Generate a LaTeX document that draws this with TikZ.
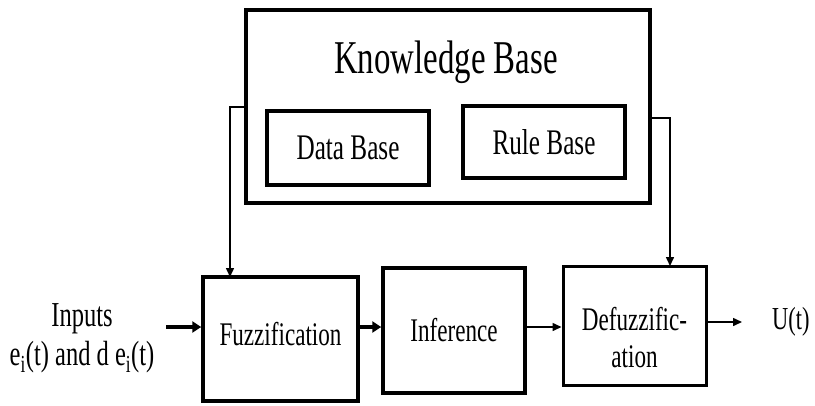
\documentclass[tikz,border=0pt]{standalone}
\usepackage{fontspec}
\setmainfont[FakeStretch=0.7]{Liberation Serif}
\usepackage{tikz}
\usetikzlibrary{arrows.meta,positioning}

\tikzset{
	block/.style={draw, line width=3.5pt, inner sep=0pt},
	thinarrow/.style={line width=1.5pt, -{Triangle[length=9pt,width=8pt]}},
	fatarrow/.style={line width=4.5pt, -{Triangle[length=9pt,width=11pt]}}
}

\begin{document}
\begin{tikzpicture}[x=1pt, y=-1pt]
		\useasboundingbox (0,0) rectangle (815,405);
		
		% knowledge base with its two parts
		\node[block, minimum width=404pt, minimum height=193pt] (kb) at (448,106.5) {};
		\node[font=\fontsize{47}{50}\selectfont] (kbtitle) at (446,62) {Knowledge Base};
		\node[block, minimum width=162pt, minimum height=74pt, font=\fontsize{36}{40}\selectfont] (db) at (348,148) {Data Base};
		\node[block, minimum width=162pt, minimum height=72pt, font=\fontsize{36}{40}\selectfont] (rb) at (544,142) {Rule Base};
		
		% main chain
		\node[block, minimum width=155pt, minimum height=124pt, text depth=10pt, font=\fontsize{33}{38}\selectfont] (fuzz) at (280.5,339) {Fuzzification};
		\node[block, minimum width=142pt, minimum height=125pt, font=\fontsize{33}{38}\selectfont] (inf) at (454,330.5) {Inference};
		\node[block, line width=3pt, minimum width=143pt, minimum height=119pt] (dfz) at (634.5,326) {};
		\node[align=center, font=\fontsize{33}{37}\selectfont] (dfzlbl) at (634.5,338) {Defuzzific-\\ation};
		
		\node[align=center, font=\fontsize{35}{39}\selectfont] (inputs) at (82,338) {Inputs\\e\textsubscript{i}(t) and d e\textsubscript{i}(t)};
		\node[anchor=west, inner sep=0pt, font=\fontsize{32}{36}\selectfont] (ut) at (772,322) {U(t)};
		
		\coordinate (inp) at (166,327);
		\coordinate (kbl) at (246,107);
		\coordinate (fzin) at (230,277);
		\coordinate (kbr) at (650,118);
		\coordinate (dfin) at (670,266);
		\coordinate (outend) at (742,322);
		
		% connectors
		\draw[fatarrow] (inp) -- (inp -| fuzz.west);
		\draw[fatarrow] (fuzz.east |- inp) -- (inp -| inf.west);
		\draw[thinarrow] (inf.east |- inp) -- (inp -| dfz.west);
		\draw[thinarrow] (dfz.east |- outend) -- (outend);
		\draw[thinarrow] (kbl) -| (fzin);
		\draw[thinarrow] (kbr) -| (dfin);
		
\end{tikzpicture}
\end{document}
